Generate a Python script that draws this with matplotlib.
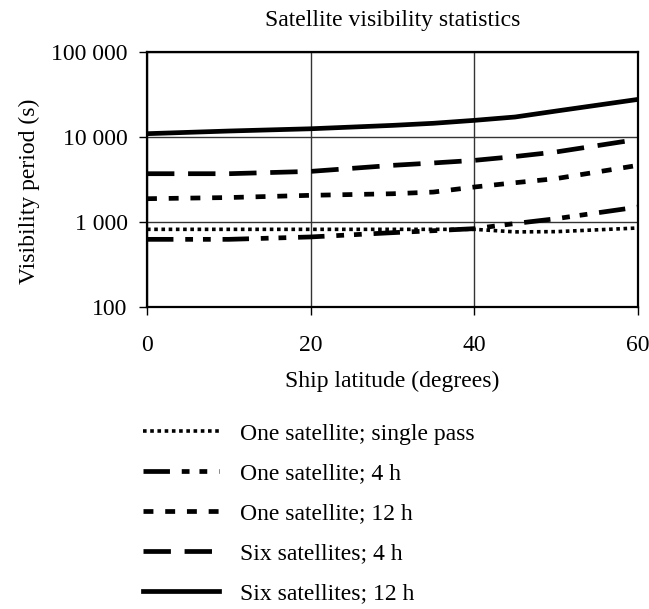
import matplotlib.pyplot as plt
from matplotlib.ticker import FixedLocator, NullLocator

plt.rcParams['font.family'] = ['Liberation Serif', 'DejaVu Serif']

# latitudes (degrees) and visibility periods (s)
latitude = [0, 10, 20, 30, 35, 40, 45, 50, 60]
one_single = [820, 820, 820, 820, 820, 820, 765, 770, 850]
one_4h = [625, 625, 667, 749, 790, 835, 960, 1094, 1500]
one_12h = [1880, 1940, 2060, 2150, 2250, 2580, 2900, 3240, 4640]
six_4h = [3700, 3700, 3940, 4640, 4950, 5310, 5900, 6670, 9390]
six_12h = [10940, 11760, 12500, 13700, 14500, 15700, 17200, 20200, 27700]

labels = ['One satellite; single pass', 'One satellite; 4 h',
          'One satellite; 12 h', 'Six satellites; 4 h',
          'Six satellites; 12 h']
yticks = [100, 1000, 10000, 100000]
ytick_labels = ['100', '1 000', '10 000', '100 000']
xticks = [0, 20, 40, 60]

fs = 17
fig = plt.figure(figsize=(6.49, 6.09), dpi=100)
ax = fig.add_axes([0.2265, 0.4959, 0.7565, 0.4187])

lw = 3.4
ax.plot(latitude, one_single, color='black', lw=2.6, linestyle=(0, (1, 1)),
        label=labels[0])
ax.plot(latitude, one_4h, color='black', lw=lw, linestyle=(0, (5.6, 2.5, 1.65, 2.1, 1.65, 2.5)),
        label=labels[1])
ax.plot(latitude, one_12h, color='black', lw=lw, linestyle=(0, (2.1, 2.5)), label=labels[2])
ax.plot(latitude, six_4h, color='black', lw=lw, linestyle=(0, (5.8, 2.9)), label=labels[3])
ax.plot(latitude, six_12h, color='black', lw=lw, linestyle='-', label=labels[4])

ax.set_yscale('log')
ax.set_ylim(100, 100000)
ax.set_xlim(0, 60)
ax.yaxis.set_major_locator(FixedLocator(yticks))
ax.yaxis.set_minor_locator(NullLocator())
ax.set_yticklabels(ytick_labels)
ax.set_xticks(xticks)

ax.grid(True, color='#333333', lw=1)
for s in ax.spines.values():
    s.set_linewidth(1.6)
ax.tick_params(labelsize=fs, direction='out', length=6, width=1)
ax.tick_params(axis='y', pad=8)
ax.tick_params(axis='x', pad=14)

ax.set_title('Satellite visibility statistics', fontsize=fs, pad=19)
ax.set_xlabel('Ship latitude (degrees)', fontsize=fs, labelpad=11)
ax.set_ylabel('Visibility period (s)', fontsize=fs, labelpad=8, y=0.455)

fig.legend(loc='upper left', bbox_to_anchor=(143 / 649, 1 - 423 / 609), frameon=False,
           fontsize=fs, handlelength=3.2, handletextpad=0.9, labelspacing=0.78,
           borderpad=0, borderaxespad=0)

fig.savefig('out.png', dpi=100)
